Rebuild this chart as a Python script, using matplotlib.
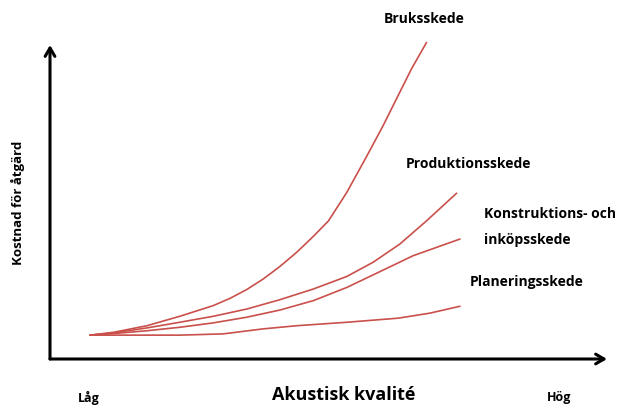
import matplotlib.pyplot as plt

plt.rcParams['font.family'] = ['Open Sans', 'DejaVu Sans']

# Kurvor (akustisk kvalité 0-100, kostnad 0-100)
bruks_x = [7.2, 11.4, 17.4, 23.3, 29.3, 32.3, 35.3, 38.3, 41.3, 44.3, 47.3, 50.0,
           53.3, 56.9, 59.8, 62.5, 64.9, 67.6]
bruks_y = [7.6, 8.5, 10.6, 13.6, 17.0, 19.3, 22.1, 25.5, 29.5, 34.0, 39.1, 44.0,
           53.1, 64.7, 74.3, 83.9, 92.4, 100.8]

prod_x = [7.2, 11.4, 17.4, 23.3, 29.3, 35.3, 41.3, 47.3, 53.3, 58.0, 62.8, 67.6, 73.0]
prod_y = [7.6, 8.3, 9.9, 11.7, 13.6, 15.9, 18.9, 22.3, 26.3, 30.8, 36.6, 44.0, 52.8]

konst_x = [7.2, 11.4, 17.4, 23.3, 29.3, 35.3, 41.3, 47.3, 53.3, 59.2, 65.2, 73.6]
konst_y = [7.6, 8.1, 9.0, 10.1, 11.5, 13.3, 15.6, 18.6, 22.8, 27.8, 32.9, 38.2]

plan_x = [7.2, 14.4, 23.3, 31.1, 38.3, 44.3, 53.3, 62.5, 68.2, 73.6]
plan_y = [7.6, 7.6, 7.6, 8.0, 9.6, 10.6, 11.7, 13.0, 14.6, 16.8]

W, H = 624, 406
fig = plt.figure(figsize=(W / 100, H / 100), dpi=100)


def fx(x):
    return x / W


def fy(y):
    return 1 - y / H


# axlarna: origo i (50, 360) px, pilspetsar vid (607, 360) och (50, 46)
ax = fig.add_axes([fx(50), fy(360), (607 - 50) / W, (360 - 46) / H])
ax.set_xlim(0, 100)
ax.set_ylim(0, 100)
ax.axis('off')

red = '#c9504b'
for xs, ys in [(bruks_x, bruks_y), (prod_x, prod_y), (konst_x, konst_y), (plan_x, plan_y)]:
    ax.plot(xs, ys, color=red, lw=1.2, clip_on=False, solid_capstyle='round',
            solid_joinstyle='round')

arrow = dict(arrowstyle='->,head_length=0.6,head_width=0.35', color='black', lw=2.2,
             shrinkA=0, shrinkB=0)
ax.annotate('', xy=(100, 0), xytext=(0, 0), arrowprops=arrow, annotation_clip=False)
ax.annotate('', xy=(0, 100), xytext=(0, 0), arrowprops=arrow, annotation_clip=False)

tb = dict(fontweight='bold', color='black')
fig.text(fx(424), fy(19), 'Bruksskede', ha='center', va='center', fontsize=10, **tb)
fig.text(fx(406), fy(164), 'Produktionsskede', ha='left', va='center', fontsize=10, **tb)
fig.text(fx(484), fy(214), 'Konstruktions- och', ha='left', va='center', fontsize=10, **tb)
fig.text(fx(484), fy(240), 'inköpsskede', ha='left', va='center', fontsize=10, **tb)
fig.text(fx(470), fy(282), 'Planeringsskede', ha='left', va='center', fontsize=10, **tb)
fig.text(fx(89), fy(398), 'Låg', ha='center', va='center', fontsize=9, **tb)
fig.text(fx(559), fy(398), 'Hög', ha='center', va='center', fontsize=9, **tb)
fig.text(fx(344), fy(395), 'Akustisk kvalité', ha='center', va='center', fontsize=13, **tb)
fig.text(fx(18), fy(203), 'Kostnad för åtgärd', ha='center', va='center', rotation=90,
         fontsize=9.5, **tb)

fig.savefig('out.png', dpi=100)
